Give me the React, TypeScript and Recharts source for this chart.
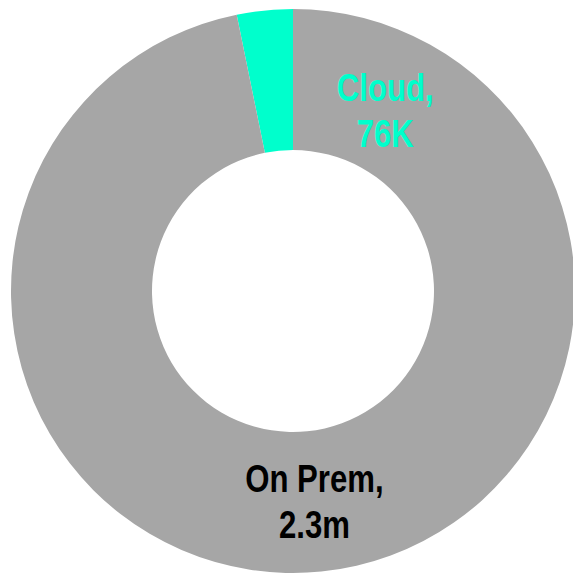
import { PieChart, Pie, Cell } from "recharts"

const names = ["Cloud", "On Prem"]
const values = [76000, 2300000]
const valueLabels = ["76K", "2.3m"]
const colors = ["#00FFCC", "#A6A6A6"]
const labelColors = ["#00FFCC", "#000000"]

const chartData = names.map((n, i) => ({ name: n, value: values[i] }))

const RADIAN = Math.PI / 180

// excel pushed the small slice's label out onto the big ring
const angleShift = [-33, 0]
const radiusShift = [-10, 2]

function renderLabel(props: any) {
  const { cx, cy, midAngle, innerRadius, outerRadius, index } = props
  const r = (innerRadius + outerRadius) / 2 + radiusShift[index]
  const a = (midAngle + angleShift[index]) * RADIAN
  const x = cx + r * Math.cos(a)
  const y = cy - r * Math.sin(a)
  // no narrow font here, so squeeze the bold one
  return (
    <text
      transform={`translate(${x},${y}) scale(0.82,1)`}
      textAnchor="middle"
      fill={labelColors[index]}
      fontFamily="'Liberation Sans', Arial, sans-serif"
      fontWeight="bold"
      fontSize={38}
    >
      <tspan x={0} y={-11}>{names[index] + ","}</tspan>
      <tspan x={0} y={35}>{valueLabels[index]}</tspan>
    </text>
  )
}

export default function App() {
  return (
    <div style={{ position: "fixed", left: 0, top: 0, background: "#fff" }}>
      <PieChart width={573} height={577} margin={{ top: 0, right: 0, bottom: 0, left: 0 }}>
        <Pie
          data={chartData}
          dataKey="value"
          nameKey="name"
          cx={293}
          cy={291}
          innerRadius={141}
          outerRadius={282}
          startAngle={90}
          endAngle={450}
          stroke="none"
          label={renderLabel}
          labelLine={false}
          isAnimationActive={false}
        >
          {chartData.map((d, i) => (
            <Cell key={d.name} fill={colors[i]} />
          ))}
        </Pie>
      </PieChart>
    </div>
  )
}
